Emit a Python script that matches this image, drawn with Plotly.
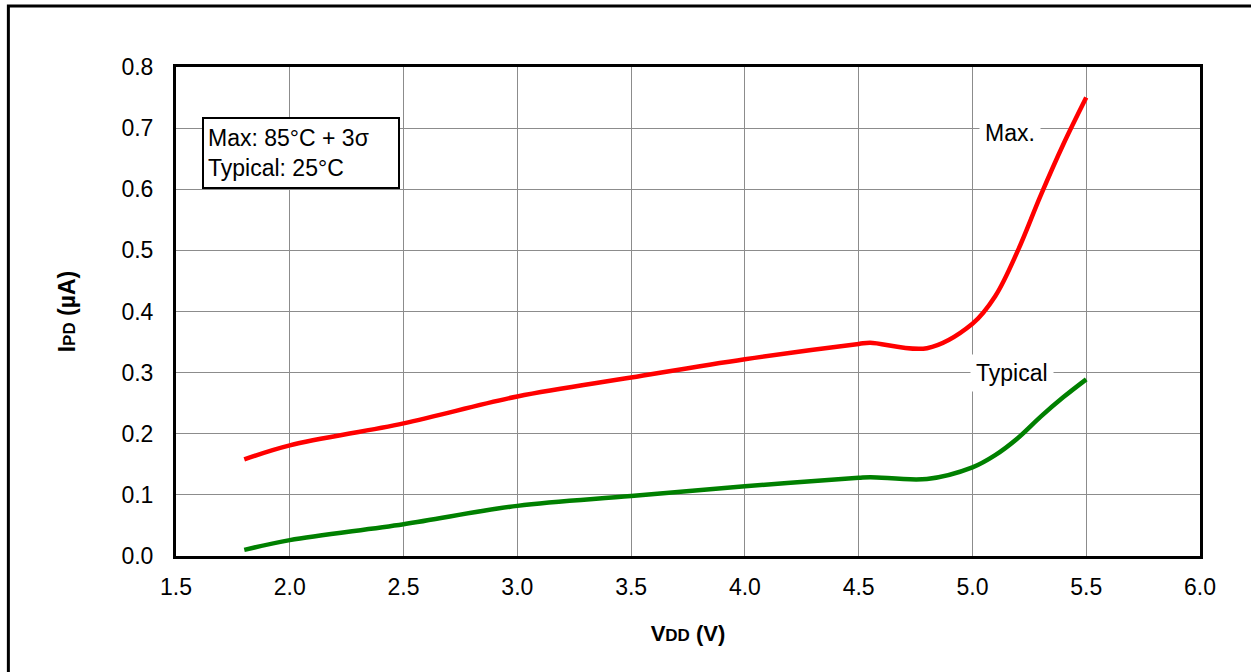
import plotly.graph_objects as go

vdd = [1.8, 2.0, 2.5, 3.0, 3.5, 4.0, 4.5, 4.55, 4.8, 5.0, 5.1, 5.2, 5.3, 5.4, 5.5]
max_ipd = [0.158, 0.181, 0.217, 0.261, 0.292, 0.322, 0.347, 0.349, 0.340, 0.380, 0.425, 0.50, 0.59, 0.674, 0.75]
typ_ipd = [0.010, 0.026, 0.052, 0.082, 0.098, 0.114, 0.128, 0.129, 0.126, 0.145, 0.165, 0.193, 0.228, 0.260, 0.289]

x_ticks = [1.5, 2.0, 2.5, 3.0, 3.5, 4.0, 4.5, 5.0, 5.5, 6.0]
y_ticks = [0.0, 0.1, 0.2, 0.3, 0.4, 0.5, 0.6, 0.7, 0.8]

font = "Liberation Sans, Arial, sans-serif"

fig = go.Figure()
fig.add_trace(go.Scatter(x=vdd, y=max_ipd, mode="lines", name="Max.",
                         line=dict(color="#ff0000", width=4.5, shape="spline", smoothing=1)))
fig.add_trace(go.Scatter(x=vdd, y=typ_ipd, mode="lines", name="Typical",
                         line=dict(color="#008000", width=4.5, shape="spline", smoothing=1)))

fig.update_xaxes(range=[1.5, 6.0], tickvals=x_ticks, ticktext=[f"{v:.1f}" for v in x_ticks],
                 showgrid=True, gridcolor="#8c8c8c", gridwidth=1, zeroline=False,
                 showline=True, linecolor="black", linewidth=3, mirror=True,
                 ticks="", ticklabelstandoff=8, tickfont=dict(size=23),
                 title=dict(text="<b>V<span style='font-size:17px'>DD</span> (V)</b>",
                            font=dict(size=22, color="black"), standoff=28))
fig.update_yaxes(range=[0, 0.8], tickvals=y_ticks, ticktext=[f"{v:.1f}" for v in y_ticks],
                 showgrid=True, gridcolor="#8c8c8c", gridwidth=1, zeroline=False,
                 showline=True, linecolor="black", linewidth=3, mirror=True,
                 ticks="", ticklabelstandoff=15, tickfont=dict(size=23),
                 title=dict(text="<b>I<span style='font-size:17px'>PD</span> (µA)</b>",
                            font=dict(size=23, color="black"), standoff=40))

# outer frame
fig.add_shape(type="rect", xref="paper", yref="paper", x0=-0.1637, y0=-0.5, x1=1.2, y1=1.1245,
              line=dict(color="black", width=3), layer="below")

fig.add_annotation(x=1.614, y=0.718, xref="x", yref="y", xanchor="left", yanchor="top",
                   text="Max: 85°C + 3σ<br>Typical: 25°C", align="left", showarrow=False,
                   width=186, height=60,
                   font=dict(size=23, color="black"), bgcolor="white",
                   bordercolor="black", borderwidth=2, borderpad=4)
fig.add_annotation(x=5.167, y=0.692, text="Max.", showarrow=False,
                   font=dict(size=23, color="black"), bgcolor="white", borderpad=5)
fig.add_annotation(x=5.175, y=0.299, text="Typical", showarrow=False,
                   font=dict(size=23, color="black"), bgcolor="white", borderpad=5)

fig.update_layout(width=1251, height=672, margin=dict(l=176, r=51, t=67, b=116),
                  plot_bgcolor="white", paper_bgcolor="white", showlegend=False,
                  font=dict(family=font, size=22, color="black"))

fig.write_html("out.html", config={"displayModeBar": False},
               post_script="document.body.style.margin='0';document.body.style.overflow='hidden';")
